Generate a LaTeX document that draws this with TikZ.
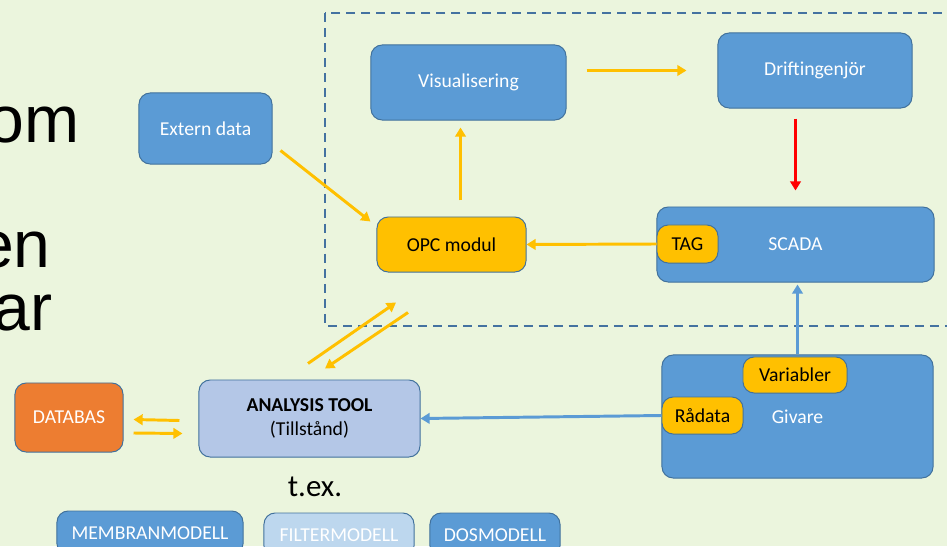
\documentclass[tikz,border=0pt]{standalone}
\usepackage{fontspec}
\setmainfont{Carlito}
\newfontfamily\arialfont{Liberation Sans}
\usetikzlibrary{calc,arrows.meta}

\definecolor{slidebg}{RGB}{235,245,221}
\definecolor{boxblue}{RGB}{91,155,213}
\definecolor{boxedge}{RGB}{65,113,156}
\definecolor{boxgold}{RGB}{255,192,0}
\definecolor{toolblue}{RGB}{180,199,231}
\definecolor{paleblue}{RGB}{189,215,238}
\definecolor{boxorange}{RGB}{237,125,49}
\definecolor{dashblue}{RGB}{68,114,160}

\tikzset{
	box/.style={draw=boxedge, line width=0.7pt, rounded corners=0.28cm, align=center, inner sep=0pt, font=\fontsize{14}{17}\selectfont},
	bluebox/.style={box, fill=boxblue, text=white},
	goldbox/.style={box, fill=boxgold, text=black},
	bigword/.style={anchor=base east, inner sep=0pt, font=\arialfont\fontsize{47}{47}\selectfont},
	yarrow/.style={draw=boxgold, line width=2.1pt, -{Triangle[length=6.5pt,width=7.5pt]}},
	barrow/.style={draw=boxblue, line width=2.1pt, -{Triangle[length=6.5pt,width=7.5pt]}},
	rarrow/.style={draw=red, line width=2.1pt, -{Triangle[length=6.5pt,width=7.5pt]}}
}

\begin{document}
\begin{tikzpicture}[x=0.025cm, y=-0.025cm]
			%%%%% START %%%%%
			
			\useasboundingbox (0,0) rectangle (947,546);
			\clip (0,0) rectangle (947,546);
			\fill[slidebg] (0,0) rectangle (947,546);
			
			% text cut by the slide edge
			\node[bigword] (wordA) at (80,142) {om};
			\node[bigword] (wordB) at (51,267) {en};
			\node[bigword] (wordC) at (53,330) {ar};
			
			\draw[dashblue, line width=1.8pt, dash pattern=on 6.4pt off 4.3pt] (325,13) rectangle (975,326);
			
			\node[bluebox, minimum width=4.875cm, minimum height=1.875cm] (vis) at (468.5,82.5) {Visualisering};
			\node[bluebox, minimum width=4.85cm, minimum height=1.875cm] (drift) at (815,70.5) {Driftingenjör};
			\node[bluebox, minimum width=3.325cm, minimum height=1.775cm] (ext) at (205.5,128.5) {Extern data};
			\node[goldbox, minimum width=3.725cm, minimum height=1.375cm] (opc) at (451.5,244.5) {OPC modul};
			
			\node[bluebox, minimum width=6.925cm, minimum height=1.875cm] (scada) at (795.5,244.5) {SCADA};
			\node[goldbox, minimum width=1.525cm, minimum height=0.95cm] (tag) at (687.5,244) {TAG};
			
			\node[bluebox, minimum width=6.775cm, minimum height=3.075cm] (givare) at (797.5,416.5) {Givare};
			\node[goldbox, minimum width=2.6cm, minimum height=0.9cm] (var) at (795,375) {Variabler};
			\node[goldbox, minimum width=2.025cm, minimum height=0.925cm] (raw) at (702.5,415.5) {Rådata};
			
			\node[box, fill=toolblue, minimum width=5.525cm, minimum height=1.925cm] (ana) at (309.5,418.5) {\textbf{ANALYSIS TOOL}\\(Tillstånd)};
			\node[box, fill=boxorange, text=white, minimum width=2.7cm, minimum height=1.725cm] (db) at (69,417.5) {DATABAS};
			
			\node[font=\fontsize{22}{22}\selectfont] (tex) at (315,487) {t.ex.};
			
			\node[bluebox, minimum width=4.65cm, minimum height=1.1cm] (mem) at (150,533) {MEMBRANMODELL};
			\node[box, fill=paleblue, text=white, minimum width=3.75cm, minimum height=1.1cm] (filt) at (339,535) {FILTERMODELL};
			\node[bluebox, minimum width=3.25cm, minimum height=1.1cm] (dos) at (495,535) {DOSMODELL};
			
			% arrows
			\draw[yarrow, shorten <=0.5cm, shorten >=0.775cm] (vis.east |- drift.west) -- (drift.west);
			\draw[rarrow, shorten <=0.25cm, shorten >=0.4cm] (scada.north |- drift.south) -- (scada.north);
			\draw[yarrow] (tag.west) -- (opc.east);
			\path ([xshift=0.225cm]opc.north) coordinate (opcup);
			\draw[yarrow, shorten <=0.4cm, shorten >=0.175cm] (opcup) -- (opcup |- vis.south);
			\draw[yarrow] ($(ext.east)+(8,22)$) -- ($(opc.west)+(-6,-23)$);
			
			\draw[yarrow] ($(ana.north)+(-1.5,-16)$) -- ($(opc.south)+(-55.5,30)$);
			\draw[yarrow] ($(opc.south)+(-43.5,40)$) -- ($(ana.north)+(15.5,-11)$);
			
			\draw[barrow, shorten >=0.05cm] (givare.north) -- (givare.north |- scada.south);
			\draw[barrow] (raw.west) -- (ana.east);
			
			\draw[yarrow] ($(ana.west)+(-19,2)$) -- ($(db.east)+(10,2)$);
			\draw[yarrow] ($(db.east)+(10,15.5)$) -- ($(ana.west)+(-16,15)$);
			
			%%%%% END %%%%%
\end{tikzpicture}
\end{document}
